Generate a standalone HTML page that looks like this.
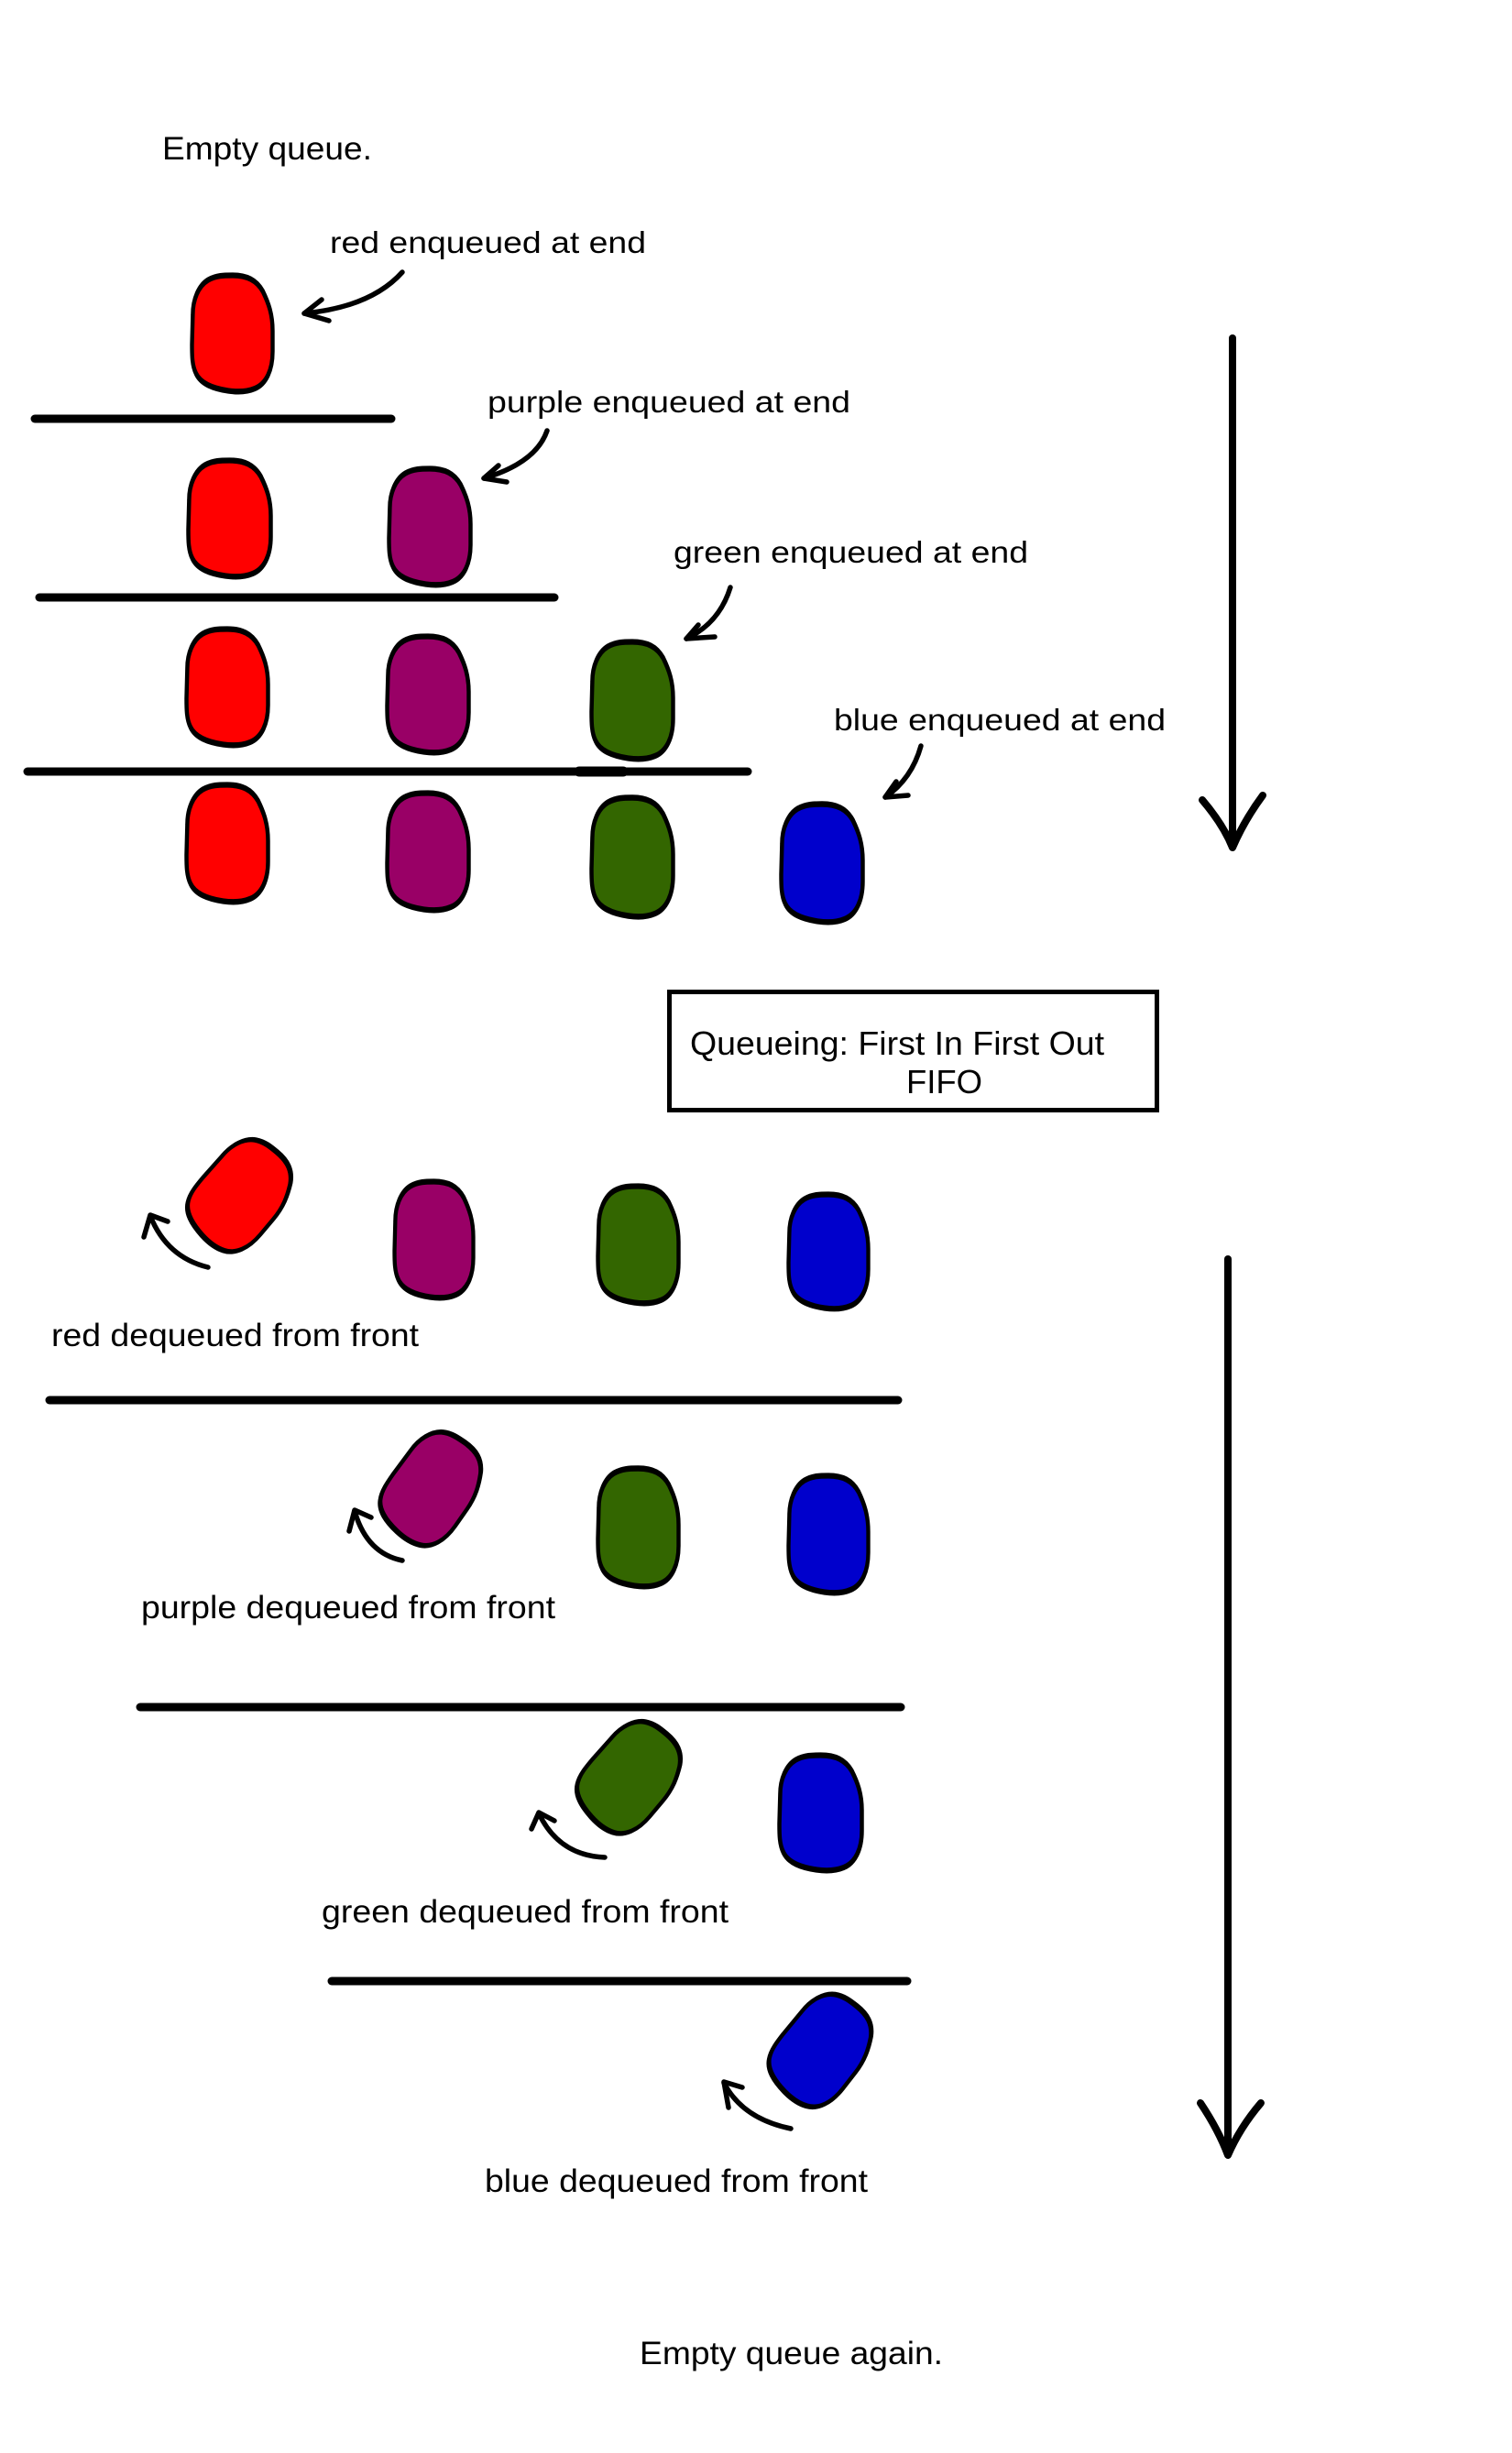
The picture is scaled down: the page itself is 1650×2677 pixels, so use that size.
<!DOCTYPE html>
<html>
<head>
<meta charset="utf-8">
<style>
  html, body { margin: 0; padding: 0; background: #ffffff; }
  body { width: 1650px; height: 2677px; overflow: hidden; }
  svg { display: block; }
  text { font-family: "Liberation Sans", Arial, sans-serif; fill: #000; }
  .b { stroke: #000; stroke-width: 5; stroke-linejoin: round; vector-effect: non-scaling-stroke; }
  .ln { stroke: #000; stroke-width: 9; stroke-linecap: round; fill: none; }
  .ar { stroke: #000; stroke-width: 5.5; stroke-linecap: round; stroke-linejoin: round; fill: none; }
  .big { stroke: #000; stroke-width: 8; stroke-linecap: round; stroke-linejoin: round; fill: none; }
</style>
</head>
<body>
<svg width="1650" height="2677" viewBox="0 0 1650 2677" xmlns="http://www.w3.org/2000/svg">
  <defs>
    <path id="blob" d="M50 0C68 0 80 4 88 14C95 24 100 34 100 48L100 66C100 82 92 94 78 98C68 101 55 101 45 100C26 98 11 94 5 85C0 78 0 69 0 60L1 34C1 21 8 9 20 4C30 0 40 0 50 0Z"/>
  </defs>

  <!-- Texts -->
  <text x="177" y="174" font-size="35" textLength="229" lengthAdjust="spacingAndGlyphs">Empty queue.</text>
  <text x="360" y="276" font-size="33.5" textLength="345" lengthAdjust="spacingAndGlyphs">red enqueued at end</text>
  <text x="532" y="450" font-size="33.5" textLength="396" lengthAdjust="spacingAndGlyphs">purple enqueued at end</text>
  <text x="735" y="614" font-size="33.5" textLength="387" lengthAdjust="spacingAndGlyphs">green enqueued at end</text>
  <text x="910" y="797" font-size="33.5" textLength="362" lengthAdjust="spacingAndGlyphs">blue enqueued at end</text>

  <text x="753" y="1151" font-size="36" textLength="452" lengthAdjust="spacingAndGlyphs">Queueing: First In First Out</text>
  <text x="989" y="1193" font-size="36" textLength="83" lengthAdjust="spacingAndGlyphs">FIFO</text>

  <text x="56" y="1469" font-size="35.3" textLength="401" lengthAdjust="spacingAndGlyphs">red dequeued from front</text>
  <text x="154" y="1766" font-size="35.3" textLength="452" lengthAdjust="spacingAndGlyphs">purple dequeued from front</text>
  <text x="351" y="2098" font-size="35.3" textLength="444" lengthAdjust="spacingAndGlyphs">green dequeued from front</text>
  <text x="529" y="2392" font-size="35.3" textLength="418" lengthAdjust="spacingAndGlyphs">blue dequeued from front</text>
  <text x="698" y="2580" font-size="35.3" textLength="331" lengthAdjust="spacingAndGlyphs">Empty queue again.</text>

  <!-- Separator lines -->
  <line class="ln" x1="38" y1="457" x2="427" y2="457"/>
  <line class="ln" x1="43" y1="652" x2="605" y2="652"/>
  <line class="ln" x1="30" y1="842" x2="816" y2="842"/>
  <line x1="632" y1="842" x2="680" y2="842" stroke="#000" stroke-width="11" stroke-linecap="round"/>
  <line class="ln" x1="54" y1="1528" x2="980" y2="1528"/>
  <line class="ln" x1="153" y1="1863" x2="983" y2="1863"/>
  <line class="ln" x1="362" y1="2162" x2="990" y2="2162"/>

  <!-- Box -->
  <rect x="730.5" y="1082.5" width="532" height="129" fill="none" stroke="#000" stroke-width="5"/>

  <!-- Upright blobs -->
  <use href="#blob" class="b" fill="#ff0000" transform="translate(209.5 300.5) scale(.88 1.26)"/>

  <use href="#blob" class="b" fill="#ff0000" transform="translate(205.5 502.5) scale(.90 1.26)"/>
  <use href="#blob" class="b" fill="#990066" transform="translate(424.5 511.5) scale(.89 1.26)"/>

  <use href="#blob" class="b" fill="#ff0000" transform="translate(203.5 686.5) scale(.89 1.26)"/>
  <use href="#blob" class="b" fill="#990066" transform="translate(422.5 694.5) scale(.89 1.26)"/>
  <use href="#blob" class="b" fill="#336600" transform="translate(645.5 700.5) scale(.89 1.27)"/>

  <use href="#blob" class="b" fill="#ff0000" transform="translate(203.5 856.5) scale(.89 1.27)"/>
  <use href="#blob" class="b" fill="#990066" transform="translate(422.5 865.5) scale(.89 1.27)"/>
  <use href="#blob" class="b" fill="#336600" transform="translate(645.5 870.5) scale(.89 1.29)"/>
  <use href="#blob" class="b" fill="#0000cc" transform="translate(852.5 877.5) scale(.89 1.28)"/>

  <use href="#blob" class="b" fill="#990066" transform="translate(430.5 1289.5) scale(.86 1.26)"/>
  <use href="#blob" class="b" fill="#336600" transform="translate(652.5 1294.5) scale(.88 1.27)"/>
  <use href="#blob" class="b" fill="#0000cc" transform="translate(860.5 1303.5) scale(.87 1.24)"/>

  <use href="#blob" class="b" fill="#336600" transform="translate(652.5 1602.5) scale(.88 1.28)"/>
  <use href="#blob" class="b" fill="#0000cc" transform="translate(860.5 1610.5) scale(.87 1.27)"/>

  <use href="#blob" class="b" fill="#0000cc" transform="translate(850.5 1915.5) scale(.90 1.25)"/>

  <!-- Tilted (dequeued) blobs -->
  <use href="#blob" class="b" fill="#ff0000" transform="translate(263 1304) rotate(40) translate(-44 -61) scale(.88 1.22)"/>
  <use href="#blob" class="b" fill="#990066" transform="translate(472 1624) rotate(35) translate(-44 -61) scale(.88 1.22)"/>
  <use href="#blob" class="b" fill="#336600" transform="translate(688 1939) rotate(40) translate(-44 -61) scale(.88 1.22)"/>
  <use href="#blob" class="b" fill="#0000cc" transform="translate(897 2237) rotate(38) translate(-44 -61) scale(.88 1.22)"/>

  <!-- Enqueue arrows -->
  <path class="ar" d="M439 297 Q405 335 332 342"/>
  <path class="ar" d="M351 327 L332 342 L359 350"/>
  <path class="ar" d="M597 470 Q585 505 528 522"/>
  <path class="ar" d="M544 508 L528 522 L553 526"/>
  <path class="ar" d="M797 641 Q785 680 749 697"/>
  <path class="ar" d="M762 682 L749 697 L780 695"/>
  <path class="ar" d="M1005 814 Q995 850 966 870"/>
  <path class="ar" d="M978 853 L966 870 L991 868"/>

  <!-- Dequeue arrows -->
  <path class="ar" d="M227 1383 Q182 1372 164 1327"/>
  <path class="ar" d="M157 1350 L164 1326 L183 1333"/>
  <path class="ar" d="M439 1703 Q400 1695 387 1649"/>
  <path class="ar" d="M381 1671 L387 1648 L405 1656"/>
  <path class="ar" d="M660 2027 Q610 2025 588 1979"/>
  <path class="ar" d="M580 1996 L588 1978 L605 1987"/>
  <path class="ar" d="M863 2323 Q810 2312 790 2273"/>
  <path class="ar" d="M795 2300 L790 2272 L810 2278"/>

  <!-- Big down arrows -->
  <path class="big" d="M1345 369 L1345 924"/>
  <path class="big" d="M1312 873 Q1335 900 1345 925 Q1358 895 1378 868"/>
  <path class="big" d="M1340 1374 L1340 2351"/>
  <path class="big" d="M1310 2295 Q1330 2325 1340 2352 Q1353 2322 1376 2295"/>
</svg>
</body>
</html>
